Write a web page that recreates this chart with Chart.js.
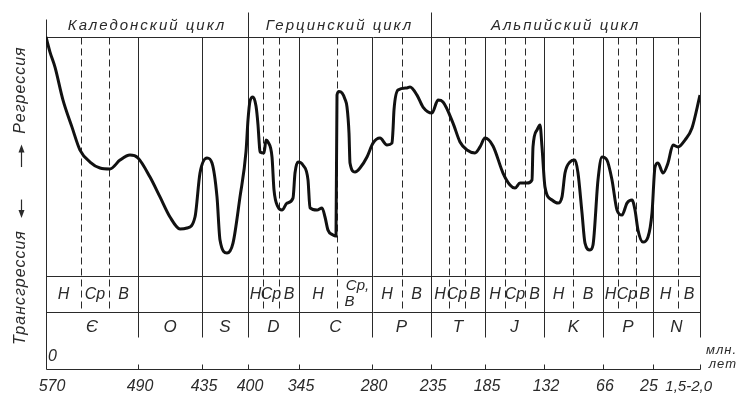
<!DOCTYPE html>
<html>
<head>
<meta charset="utf-8">
<script src="https://cdn.jsdelivr.net/npm/chart.js@4/dist/chart.umd.min.js"></script>
<style>
  html, body { margin: 0; padding: 0; background: #fff; }
  #wrap { width: 740px; height: 399px; }
</style>
</head>
<body>
<div id="wrap"><canvas id="c" width="740" height="399"></canvas></div>
<script>
// Geological time scale (schematic spacing along the axis, 0..654)
const AGE_LABELS    = ['570','490','435','400','345','280','235','185','132','66','25','1,5-2,0'];
const PERIOD_BOUNDS = [0, 92, 156, 202, 253, 326, 385, 439, 498, 557, 607, 654];
const PERIODS       = ['Є','O','S','D','C','P','T','J','K','P','N'];
const EPOCHS        = [['Н','Ср','В'], [], [], ['Н','Ср','В'], ['Н','Ср, В'], ['Н','В'],
                       ['Н','Ср','В'], ['Н','Ср','В'], ['Н','В'], ['Н','Ср','В'], ['Н','В']];
const EPOCH_BOUNDS  = [[35,63], [], [], [217,233], [291], [356],
                       [403,419], [459,479], [527], [572,590], [632]];
const CYCLES        = ['Каледонский цикл','Герцинский цикл','Альпийский цикл'];
const CYCLE_BOUNDS  = [0, 202, 385, 654];

// Sea-level curve: 100 = maximum regression, 0 = maximum transgression
const CURVE_X = [0, 4, 9, 17, 26, 34, 44, 54, 64, 74, 84, 92, 104, 114, 124, 134, 141, 149, 154, 161,
  166, 171, 174, 181, 187, 194, 200, 202, 204, 207, 210, 212, 213, 214, 218, 220, 222, 226, 228, 232, 236, 241,
  247, 249, 252, 257, 262, 264, 271, 276, 279, 282, 287, 290, 291, 293, 296, 299, 301, 303, 304, 309, 314, 321,
  327, 334, 341, 346, 347, 348, 352, 361, 364, 371, 377, 386, 392, 397, 407, 414, 421, 429, 434, 439,
  447, 457, 464, 469, 474, 481, 486, 487, 491, 494, 496, 499, 506, 512, 516, 519, 524, 529, 532, 536,
  539, 544, 547, 552, 556, 561, 566, 571, 576, 581, 586, 589, 592, 597, 602, 606, 609, 612, 617, 622,
  627, 632, 639, 646, 654];
const CURVE_Y = [100, 93.7, 87.4, 73.6, 62.3, 52.7, 47.7, 45.2, 44.8, 48.5, 50.6, 49.4, 41.4, 33.1, 24.7, 19.7, 20.1, 24.7, 43.1, 49.4,
  47.3, 33.1, 15.1, 9.6, 13.8, 33.1, 52.0, 65.3, 73.2, 74.9, 71.1, 63.2, 57.0, 51.9, 51.5, 56.9, 56.1, 49.8, 36.0, 28.9, 27.6, 30.5,
  32.6, 43.1, 47.7, 46.4, 40.2, 28.5, 27.6, 28.5, 24.7, 19.2, 17.2, 16.7, 75.7, 77.2, 76.6, 74.0, 70.7, 59.8, 47.3, 43.5, 45.2, 49.8,
  55.6, 57.7, 54.8, 55.6, 61.1, 69.5, 77.8, 78.7, 79.1, 75.7, 70.7, 68.2, 73.6, 72.8, 64.0, 56.1, 52.7, 51.5, 54.0, 57.7,
  54.4, 43.1, 38.1, 36.8, 38.9, 38.9, 40.2, 54.0, 61.1, 63.2, 54.0, 37.2, 31.8, 30.5, 33.1, 43.1, 47.7, 48.5, 43.1, 26.4,
  13.8, 10.9, 13.0, 40.2, 49.8, 48.5, 40.2, 27.6, 25.5, 30.5, 31.8, 27.6, 19.2, 14.2, 16.3, 26.4, 45.6, 47.3, 43.1, 47.3,
  54.8, 54.0, 56.9, 61.9, 75.7];

// Vertical layout in curve units (main panel spans 0..100)
const Y_MIN = -38.9, Y_MAX = 111.3;
const ROW_EPOCH_BOTTOM = -15.1;
const ROW_PERIOD_LINE_END = -25.5;
const HEADER_TOP = 110.5;

const INK = '#2a2a2a';
const FONT = '"Liberation Sans Narrow", "Liberation Sans", Arial, sans-serif';

const tablePlugin = {
  id: 'geoTable',
  beforeDatasetsDraw(chart) {
    const ctx = chart.ctx;
    const xs = chart.scales.x, ys = chart.scales.y;
    const X = v => xs.getPixelForValue(v);
    const Y = v => ys.getPixelForValue(v);
    const yTop = Y(100), yMid = Y(0), yEp = Y(ROW_EPOCH_BOTTOM), yPer = Y(ROW_PERIOD_LINE_END);
    const yAxis = Y(Y_MIN), yHead = Y(HEADER_TOP);
    const left = X(0), right = X(654);

    ctx.save();
    ctx.strokeStyle = INK;
    ctx.lineWidth = 1;
    const line = (x1, y1, x2, y2, dash) => {
      ctx.setLineDash(dash || []);
      ctx.beginPath();
      ctx.moveTo(Math.round(x1) + 0.5, Math.round(y1) + 0.5);
      ctx.lineTo(Math.round(x2) + 0.5, Math.round(y2) + 0.5);
      ctx.stroke();
    };

    // horizontal rules
    line(left, yTop, right, yTop);
    line(left, yMid, right, yMid);
    line(left, yEp, right, yEp);

    // period boundaries
    PERIOD_BOUNDS.forEach((p, i) => {
      const x = X(p);
      let top = yTop, bottom = yPer;
      if (CYCLE_BOUNDS.includes(p)) top = (i === 0) ? yHead + 7 : yHead;
      if (i === 0) bottom = yAxis - 4;
      line(x, top, x, bottom);
      // axis tick
      line(x, yAxis - 5, x, yAxis);
    });

    // epoch boundaries (dashed)
    EPOCH_BOUNDS.forEach(arr => arr.forEach(p => line(X(p), yTop, X(p), yEp, [7, 4])));

    // time axis line
    line(left, yAxis, right, yAxis);

    ctx.setLineDash([]);
    ctx.fillStyle = INK;
    ctx.textBaseline = 'middle';
    ctx.textAlign = 'center';

    // cycle headers
    ctx.font = 'italic 15px ' + FONT;
    ctx.letterSpacing = '2px';
    for (let i = 0; i < CYCLES.length; i++) {
      const cx = (X(CYCLE_BOUNDS[i]) + X(CYCLE_BOUNDS[i + 1])) / 2;
      ctx.fillText(CYCLES[i], cx, (yHead + yTop) / 2 + 1);
    }
    ctx.letterSpacing = '0px';

    // period row
    ctx.font = 'italic 17px ' + FONT;
    const yPerText = (yEp + yPer) / 2 + 3;
    PERIODS.forEach((name, i) => {
      const cx = (X(PERIOD_BOUNDS[i]) + X(PERIOD_BOUNDS[i + 1])) / 2;
      ctx.fillText(name, cx, yPerText);
    });

    // epoch row
    const yEpText = (yMid + yEp) / 2;
    PERIODS.forEach((_, i) => {
      const names = EPOCHS[i];
      if (!names.length) return;
      const edges = [PERIOD_BOUNDS[i], ...EPOCH_BOUNDS[i], PERIOD_BOUNDS[i + 1]];
      names.forEach((nm, j) => {
        const cx = (X(edges[j]) + X(edges[j + 1])) / 2;
        if (nm.includes(',')) {
          const parts = nm.split(' ');
          ctx.font = 'italic 15px ' + FONT;
          ctx.fillText(parts[0], cx + 3, yEpText - 8);
          ctx.fillText(parts[1], cx - 5, yEpText + 8);
        } else {
          ctx.font = 'italic 16px ' + FONT;
          ctx.fillText(nm, cx, yEpText);
        }
      });
    });

    // age labels under the axis
    AGE_LABELS.forEach((lbl, i) => {
      const x = X(PERIOD_BOUNDS[i]);
      ctx.font = 'italic 16px ' + FONT;
      if (i === 0) {
        ctx.fillText(lbl, x + 6, yAxis + 18);
      } else if (i === AGE_LABELS.length - 2) {
        ctx.fillText(lbl, x - 4, yAxis + 18);
      } else if (i === AGE_LABELS.length - 1) {
        ctx.font = 'italic 15px ' + FONT;
        ctx.textAlign = 'right';
        ctx.fillText(lbl, x + 12, yAxis + 18);
        ctx.textAlign = 'center';
      } else {
        ctx.fillText(lbl, x + 2, yAxis + 18);
      }
    });

    // axis origin and units
    ctx.textAlign = 'left';
    ctx.font = 'italic 16px ' + FONT;
    ctx.fillText('0', left + 2, yAxis - 12);
    ctx.textAlign = 'right';
    ctx.font = 'italic 13px ' + FONT;
    ctx.letterSpacing = '1px';
    ctx.fillText('млн.', 737, yAxis - 19);
    ctx.fillText('лет', 737, yAxis - 5);
    ctx.letterSpacing = '0px';

    // vertical caption on the left
    ctx.font = 'italic 16px ' + FONT;
    ctx.letterSpacing = '1px';
    const capX = 21;
    const vtext = (txt, cy) => {
      ctx.save();
      ctx.translate(capX, cy);
      ctx.rotate(-Math.PI / 2);
      ctx.textAlign = 'center';
      ctx.fillText(txt, 0, 0);
      ctx.restore();
    };
    vtext('Трансгрессия', Y(-4.8));
    vtext('Регрессия', Y(77.8));
    ctx.letterSpacing = '0px';

    // arrows between the two captions
    const arrow = (yFrom, yTo) => {
      const a = Y(yFrom), b = Y(yTo);
      const dir = Math.sign(b - a);
      ctx.setLineDash([]);
      ctx.lineWidth = 1.2;
      ctx.beginPath();
      ctx.moveTo(capX + 0.5, a);
      ctx.lineTo(capX + 0.5, b - dir * 5);
      ctx.stroke();
      ctx.beginPath();
      ctx.moveTo(capX + 0.5, b);
      ctx.lineTo(capX - 2.5, b - dir * 8);
      ctx.lineTo(capX + 3.5, b - dir * 8);
      ctx.closePath();
      ctx.fill();
    };
    arrow(45.6, 55.0);   // towards regression
    arrow(32.0, 24.3);   // towards transgression
    ctx.restore();
  }
};

new Chart(document.getElementById('c'), {
  type: 'line',
  data: {
    datasets: [{
      data: CURVE_X.map((x, i) => ({ x, y: CURVE_Y[i] })),
      borderColor: '#111',
      borderWidth: 3,
      pointRadius: 0,
      cubicInterpolationMode: 'monotone',
      fill: false
    }]
  },
  options: {
    responsive: false,
    animation: false,
    devicePixelRatio: 1,
    layout: { padding: { left: 46, right: 40, top: 10, bottom: 30 } },
    plugins: { legend: { display: false }, tooltip: { enabled: false } },
    scales: {
      x: { type: 'linear', min: 0, max: 654, display: false },
      y: { type: 'linear', min: Y_MIN, max: Y_MAX, display: false }
    }
  },
  plugins: [tablePlugin]
});
</script>
</body>
</html>
